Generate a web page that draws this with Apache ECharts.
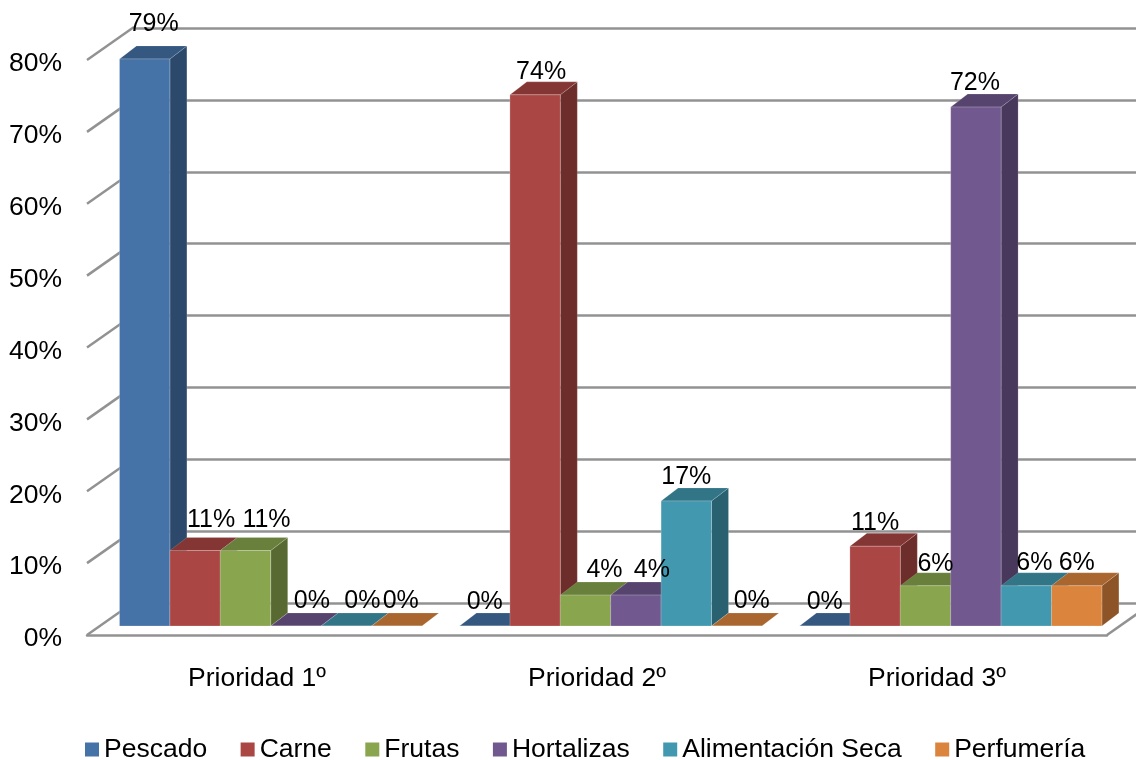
<!DOCTYPE html>
<html>
<head>
<meta charset="utf-8">
<title>Prioridad</title>
<script src="https://cdn.jsdelivr.net/npm/echarts@6/dist/echarts.min.js"></script>
<style>
html, body { margin: 0; padding: 0; background: #fff; }
#main { width: 1136px; height: 760px; }
</style>
</head>
<body>
<div id="main"></div>
<script>
var categorias = ['Prioridad 1º', 'Prioridad 2º', 'Prioridad 3º'];
var nombres = ['Pescado', 'Carne', 'Frutas', 'Hortalizas', 'Alimentación Seca', 'Perfumería'];

var pescado = [78.9, 0, 0];
var carne = [10.5, 73.9, 11.1];
var frutas = [10.5, 4.3, 5.6];
var hortalizas = [0, 4.3, 72.2];
var seca = [0, 17.4, 5.6];
var perfumeria = [0, 0, 5.6];

var valores = [pescado, carne, frutas, hortalizas, seca, perfumeria];
var colores = ['#4572A7', '#AA4643', '#89A54E', '#71588F', '#4198AF', '#DB843D'];
var yTicks = [0, 10, 20, 30, 40, 50, 60, 70, 80];

// hand placed labels in the original, [dx, dy] from the top of the bar
var ajusteEtiquetas = [
    [[9, -35], [0, -24], [0, -24]],
    [[16, -30], [6, -23], [0, -23]],
    [[21, -30], [19, -25], [10, -22]],
    [[16, -25], [16, -25], [-1, -24]],
    [[16, -25], [0, -24], [8, -23]],
    [[4, -25], [15, -25], [0, -23]]
];

var FUENTE = '"Liberation Sans", Arial, sans-serif';
var GRIS = '#929292';
var PROF_BAR = [17, 13];
var PROF_PARED = [47, 33];
var ANCHO_RELATIVO = 302.4 / 340;

function oscurecer(hex, f) {
    var n = parseInt(hex.slice(1), 16);
    var r = Math.round((n >> 16) * f);
    var g = Math.round(((n >> 8) & 255) * f);
    var b = Math.round((n & 255) * f);
    return 'rgb(' + r + ',' + g + ',' + b + ')';
}

function barra(idx) {
    return function (params, api) {
        var cat = api.value(0);
        var val = api.value(1);
        var bw = api.size([1, 0])[0] * ANCHO_RELATIVO / 6;
        var centro = api.coord([cat, 0]);
        var top = api.coord([cat, val])[1];
        var x0 = centro[0] - 3 * bw + idx * bw;
        var x1 = x0 + bw;
        var y0 = centro[1];
        var dx = PROF_BAR[0], dy = PROF_BAR[1];
        var c = colores[idx];
        var aj = ajusteEtiquetas[idx][cat];
        return {
            type: 'group',
            children: [{
                type: 'polygon',
                shape: { points: [[x1, top], [x1 + dx, top - dy], [x1 + dx, y0 - dy], [x1, y0]] },
                style: { fill: oscurecer(c, 0.64), stroke: 'rgba(255,255,255,0.15)', lineWidth: 1 }
            }, {
                type: 'polygon',
                shape: { points: [[x0, top], [x0 + dx, top - dy], [x1 + dx, top - dy], [x1, top]] },
                style: { fill: oscurecer(c, 0.77), stroke: 'rgba(255,255,255,0.15)', lineWidth: 1 }
            }, {
                type: 'rect',
                shape: { x: x0, y: top, width: bw, height: y0 - top },
                style: { fill: c, stroke: 'rgba(255,255,255,0.22)', lineWidth: 1 }
            }, {
                type: 'text',
                z2: 100,
                style: {
                    x: x0 + bw / 2 + aj[0],
                    y: top + aj[1],
                    text: Math.round(val) + '%',
                    fill: '#000',
                    font: '25px ' + FUENTE,
                    align: 'center',
                    verticalAlign: 'middle'
                }
            }]
        };
    };
}

function pared(params, api) {
    var cs = params.coordSys;
    var val = api.value(0);
    var y = api.coord([0, val])[1];
    var estilo = { stroke: GRIS, lineWidth: 2.5, fill: null };
    var lineas = [{
        type: 'line',
        shape: { x1: cs.x, y1: y, x2: cs.x + PROF_PARED[0], y2: y - PROF_PARED[1] },
        style: estilo
    }];
    if (val === 0) {
        lineas.push({
            type: 'line',
            shape: { x1: cs.x + cs.width, y1: y, x2: cs.x + cs.width + PROF_PARED[0], y2: y - PROF_PARED[1] },
            style: estilo
        });
    }
    return { type: 'group', children: lineas };
}

var series = nombres.map(function (nombre, i) {
    return {
        name: nombre,
        type: 'custom',
        xAxisIndex: 1,
        yAxisIndex: 1,
        z: 5,
        silent: true,
        itemStyle: { color: colores[i] },
        encode: { x: 0, y: 1 },
        data: valores[i].map(function (v, c) { return [c, v]; }),
        renderItem: barra(i)
    };
});

series.push({
    type: 'custom',
    xAxisIndex: 0,
    yAxisIndex: 0,
    z: 1,
    silent: true,
    encode: { y: 0 },
    data: yTicks.map(function (t) { return [t]; }),
    renderItem: pared
});

var myChart = echarts.init(document.getElementById('main'));

var option = {
    animation: false,
    color: colores,
    grid: [
        { left: 87, top: 60, width: 1020, height: 575 },   // front edge, carries the labels
        { left: 100.7, top: 51, width: 1020, height: 575 }, // plane of the bars
        { left: 134, top: 28, width: 1020, height: 575 }   // back wall
    ],
    xAxis: [{
        gridIndex: 0,
        type: 'category',
        data: categorias,
        axisLine: { lineStyle: { color: GRIS, width: 2.5 } },
        axisTick: { show: false },
        axisLabel: { margin: 30, color: '#000', fontSize: 26.5, fontFamily: FUENTE }
    }, {
        gridIndex: 1,
        type: 'category',
        data: categorias,
        show: false
    }, {
        gridIndex: 2,
        type: 'category',
        data: categorias,
        show: false
    }],
    yAxis: [{
        gridIndex: 0,
        type: 'value',
        min: 0,
        max: 80,
        interval: 10,
        axisLine: { show: false },
        axisTick: { show: false },
        splitLine: { show: false },
        axisLabel: {
            margin: 25,
            verticalAlign: 'top',
            lineHeight: 8, // sits a little under the tick in the original
            color: '#000',
            fontSize: 26.5,
            fontFamily: FUENTE,
            formatter: '{value}%'
        }
    }, {
        gridIndex: 1,
        type: 'value',
        min: 0,
        max: 80,
        interval: 10,
        show: false
    }, {
        gridIndex: 2,
        type: 'value',
        min: 0,
        max: 80,
        interval: 10,
        axisLine: { show: false },
        axisTick: { show: false },
        axisLabel: { show: false },
        splitLine: { show: true, lineStyle: { color: GRIS, width: 2.5, type: 'solid' } }
    }],
    legend: {
        data: nombres,
        left: 80,
        top: 731,
        icon: 'rect',
        itemWidth: 14,
        itemHeight: 14,
        itemGap: 33.5,
        selectedMode: false,
        textStyle: { color: '#000', fontSize: 26.5, fontFamily: FUENTE }
    },
    series: series
};

myChart.setOption(option);
</script>
</body>
</html>
